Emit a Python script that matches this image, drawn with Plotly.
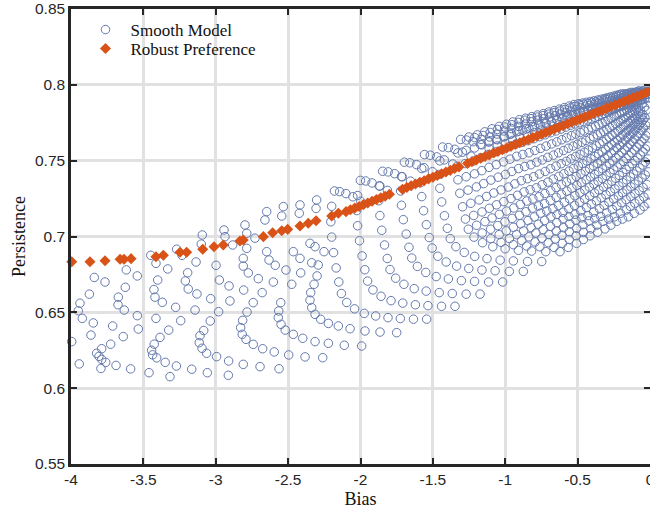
import plotly.graph_objects as go

# ---------------- Robust Preference (diamonds) ----------------
robust_x = [-3.995, -3.869, -3.765, -3.661, -3.634, -3.585, -3.413, -3.362, -3.247, -3.201,
            -3.090, -3.012, -2.948, -2.833, -2.810, -2.671, -2.607, -2.544, -2.503, -2.418,
            -2.361, -2.307, -2.199, -2.153, -2.100,
            -2.07, -2.04, -2.01, -1.98, -1.95, -1.92, -1.89, -1.86, -1.83, -1.80,
            -1.71, -1.68, -1.65, -1.62, -1.59, -1.56, -1.53, -1.50, -1.47, -1.44,
            -1.41, -1.38, -1.35, -1.32, -1.26, -1.23, -1.20, -1.17, -1.14, -1.11,
            -1.08, -1.05, -1.02, -0.99, -0.96, -0.93, -0.90, -0.87, -0.84, -0.81,
            -0.78, -0.75, -0.72, -0.69, -0.66, -0.63, -0.60, -0.57, -0.54, -0.51,
            -0.48, -0.45, -0.42, -0.39, -0.36, -0.33, -0.30, -0.27, -0.24, -0.21,
            -0.18, -0.15, -0.12, -0.09, -0.06, -0.03, 0.00]
robust_y = [0.6834, 0.6834, 0.6840, 0.6850, 0.6850, 0.6854, 0.6867, 0.6876, 0.6896, 0.6896,
            0.6916, 0.6933, 0.6944, 0.6970, 0.6977, 0.6999, 0.7025, 0.7038, 0.7047, 0.7069,
            0.7087, 0.7104, 0.7135, 0.7153, 0.7164,
            0.7176, 0.7187, 0.7198, 0.7210, 0.7221, 0.7232, 0.7244, 0.7255, 0.7266, 0.7278,
            0.7312, 0.7323, 0.7334, 0.7346, 0.7357, 0.7368, 0.7380, 0.7391, 0.7402, 0.7414,
            0.7425, 0.7436, 0.7448, 0.7459, 0.7482, 0.7493, 0.7504, 0.7516, 0.7527, 0.7538,
            0.7550, 0.7561, 0.7572, 0.7584, 0.7595, 0.7606, 0.7618, 0.7629, 0.7640, 0.7652,
            0.7663, 0.7675, 0.7686, 0.7697, 0.7709, 0.7720, 0.7731, 0.7743, 0.7754, 0.7765,
            0.7777, 0.7788, 0.7799, 0.7811, 0.7822, 0.7833, 0.7845, 0.7856, 0.7867, 0.7879,
            0.7890, 0.7901, 0.7913, 0.7924, 0.7935, 0.7947, 0.7958]

# ---------------- Smooth Model (open circles) ----------------
# sparse left part, read point by point
sparse_x = [-3.995, -3.943, -3.950, -3.938, -3.922, -3.873, -3.839, -3.765, -3.846, -3.862,
            -3.823, -3.807, -3.788, -3.788, -3.793, -3.760, -3.726, -3.712, -3.689, -3.639,
            -3.673, -3.675, -3.632, -3.625, -3.618, -3.588, -3.542, -3.542, -3.535, -3.449,
            -3.413, -3.332, -3.401, -3.427, -3.420, -3.369, -3.277, -3.413, -3.325, -3.385,
            -3.425, -3.443, -3.436, -3.408, -3.349, -3.461, -3.316, -3.272, -3.166, -3.242,
            -3.143, -3.270, -3.233, -3.093, -3.100, -3.136, -3.194, -3.210, -3.190, -3.130,
            -3.035, -3.083, -3.109, -3.114, -3.095, -3.063, -3.058, -3.038, -2.998, -2.980,
            -2.975, -2.994, -2.908, -2.902, -2.913, -2.911, -2.810, -2.694, -2.563, -2.596,
            -2.676, -2.741, -2.791, -2.817, -2.828, -2.814, -2.784, -2.741, -2.807, -2.775,
            -2.810, -2.706, -2.679, -2.602, -2.589, -2.632, -2.515, -2.551, -2.565, -2.568,
            -2.549, -2.520, -2.464, -2.399, -2.314, -2.261, -2.383, -2.496, -2.475, -2.413,
            -2.337, -2.344, -2.349, -2.337, -2.314, -2.275, -2.321, -2.300, -2.943, -2.936,
            -2.798, -2.786, -2.729, -2.648, -2.660, -2.533, -2.544, -2.418, -2.423, -2.303,
            -2.883, -2.786, -2.810, -2.648, -2.418, -2.464, -2.349, -2.314, -2.252, -2.292,
            -2.222, -2.222, -2.307,
            -1.992, -2.112, -1.750, -1.865, -1.969, -2.072, -2.153]
sparse_y = [0.6307, 0.6160, 0.6510, 0.6560, 0.6460, 0.6620, 0.6730, 0.6700, 0.6430, 0.6350,
            0.6230, 0.6210, 0.6190, 0.6260, 0.6130, 0.6170, 0.6290, 0.6410, 0.6150, 0.6340,
            0.6600, 0.6550, 0.6515, 0.6665, 0.6780, 0.6127, 0.6740, 0.6478, 0.6390, 0.6876,
            0.6823, 0.6786, 0.6713, 0.6650, 0.6600, 0.6566, 0.6533, 0.6460, 0.6383, 0.6335,
            0.6290, 0.6250, 0.6220, 0.6200, 0.6170, 0.6102, 0.6076, 0.6146, 0.6125, 0.6445,
            0.6515, 0.6916, 0.6876, 0.7010, 0.6950, 0.6832, 0.6761, 0.6707, 0.6654, 0.6621,
            0.6590, 0.6380, 0.6346, 0.6300, 0.6263, 0.6230, 0.6102, 0.6443, 0.6810, 0.6504,
            0.6713, 0.6208, 0.6674, 0.6575, 0.6085, 0.6179, 0.6157, 0.6142, 0.6128, 0.6239,
            0.6260, 0.6289, 0.6322, 0.6355, 0.6399, 0.6447, 0.6502, 0.6564, 0.6647, 0.6760,
            0.6805, 0.6722, 0.6630, 0.6700, 0.6810, 0.6845, 0.6779, 0.6564, 0.6509, 0.6465,
            0.6421, 0.6383, 0.6355, 0.6329, 0.6307, 0.6201, 0.6206, 0.6219, 0.6685, 0.6760,
            0.6827, 0.6630, 0.6580, 0.6531, 0.6487, 0.6454, 0.6685, 0.6740, 0.7043, 0.6999,
            0.7076, 0.7021, 0.6989, 0.7164, 0.7109, 0.7197, 0.7135, 0.7208, 0.7153, 0.7241,
            0.6944, 0.6922, 0.6856, 0.6900, 0.6856, 0.6900, 0.6955, 0.6933, 0.6900, 0.6812,
            0.6427, 0.6296, 0.7185,
            0.6278, 0.6283, 0.6366, 0.6370, 0.6377, 0.6392, 0.6410]

# dense arcs, read arc by arc (bottom row -> left side -> top)
arc03_x = [-1.543, -1.634, -1.725, -1.810, -1.895, -1.974, -2.041, -2.095, -2.132, -2.150, -2.168, -2.186, -2.199, -2.205, -2.199, -2.180, -2.144, -2.101, -2.053, -1.998]
arc03_y = [0.6455, 0.6455, 0.6459, 0.6465, 0.6476, 0.6493, 0.6523, 0.6565, 0.6624, 0.6700, 0.6793, 0.6894, 0.6996, 0.7097, 0.7199, 0.7300, 0.7296, 0.7283, 0.7262, 0.7232]
arc04_x = [-1.347, -1.440, -1.534, -1.621, -1.708, -1.789, -1.858, -1.914, -1.951, -1.970, -1.989, -2.007, -2.020, -2.026, -2.020, -2.001, -1.964, -1.920, -1.870, -1.814]
arc04_y = [0.6540, 0.6540, 0.6544, 0.6550, 0.6561, 0.6577, 0.6606, 0.6648, 0.6706, 0.6781, 0.6872, 0.6972, 0.7071, 0.7171, 0.7270, 0.7370, 0.7366, 0.7353, 0.7333, 0.7304]
arc05_x = [-1.174, -1.270, -1.366, -1.456, -1.546, -1.629, -1.700, -1.757, -1.796, -1.815, -1.834, -1.853, -1.866, -1.873, -1.866, -1.847, -1.809, -1.764, -1.712, -1.655]
arc05_y = [0.6620, 0.6620, 0.6624, 0.6630, 0.6640, 0.6656, 0.6685, 0.6725, 0.6782, 0.6855, 0.6944, 0.7041, 0.7138, 0.7236, 0.7333, 0.7430, 0.7426, 0.7414, 0.7394, 0.7365]
arc06_x = [-1.018, -1.115, -1.212, -1.303, -1.393, -1.477, -1.549, -1.607, -1.646, -1.665, -1.684, -1.704, -1.717, -1.723, -1.717, -1.697, -1.659, -1.613, -1.561, -1.503]
arc06_y = [0.6700, 0.6700, 0.6704, 0.6709, 0.6720, 0.6736, 0.6763, 0.6803, 0.6858, 0.6929, 0.7016, 0.7111, 0.7206, 0.7300, 0.7395, 0.7490, 0.7486, 0.7474, 0.7454, 0.7427]
arc07_x = [-0.875, -0.972, -1.070, -1.161, -1.252, -1.336, -1.408, -1.466, -1.505, -1.525, -1.545, -1.564, -1.577, -1.584, -1.577, -1.558, -1.518, -1.473, -1.421, -1.362]
arc07_y = [0.6770, 0.6770, 0.6774, 0.6779, 0.6789, 0.6805, 0.6832, 0.6870, 0.6924, 0.6993, 0.7078, 0.7170, 0.7263, 0.7355, 0.7448, 0.7540, 0.7536, 0.7525, 0.7505, 0.7478]
arc08_x = [-0.748, -0.846, -0.944, -1.035, -1.126, -1.211, -1.283, -1.341, -1.380, -1.400, -1.420, -1.439, -1.452, -1.459, -1.452, -1.433, -1.393, -1.348, -1.296, -1.237]
arc08_y = [0.6835, 0.6835, 0.6839, 0.6844, 0.6854, 0.6869, 0.6895, 0.6933, 0.6986, 0.7054, 0.7137, 0.7228, 0.7318, 0.7409, 0.7499, 0.7590, 0.7586, 0.7575, 0.7556, 0.7530]
arc09_x = [-0.622, -0.720, -0.818, -0.909, -1.001, -1.086, -1.157, -1.216, -1.255, -1.275, -1.295, -1.314, -1.327, -1.334, -1.327, -1.308, -1.268, -1.223, -1.171, -1.112]
arc09_y = [0.6900, 0.6900, 0.6904, 0.6909, 0.6919, 0.6933, 0.6959, 0.6996, 0.7048, 0.7115, 0.7196, 0.7285, 0.7374, 0.7462, 0.7551, 0.7640, 0.7636, 0.7625, 0.7607, 0.7581]
arc09b_x = [-0.565, -0.663, -0.761, -0.852, -0.944, -1.029, -1.100, -1.159, -1.198, -1.218, -1.238, -1.257, -1.270, -1.277, -1.270, -1.251, -1.211, -1.166, -1.114, -1.055]
arc09b_y = [0.6928, 0.6928, 0.6932, 0.6937, 0.6946, 0.6961, 0.6986, 0.7023, 0.7074, 0.7139, 0.7219, 0.7306, 0.7394, 0.7481, 0.7568, 0.7656, 0.7652, 0.7641, 0.7623, 0.7597]
arc10_x = [-0.507, -0.605, -0.703, -0.794, -0.886, -0.971, -1.042, -1.101, -1.140, -1.160, -1.180, -1.199, -1.212, -1.219, -1.212, -1.193, -1.153, -1.108, -1.056, -0.997]
arc10_y = [0.6955, 0.6955, 0.6959, 0.6964, 0.6973, 0.6987, 0.7012, 0.7048, 0.7098, 0.7162, 0.7241, 0.7327, 0.7413, 0.7498, 0.7584, 0.7670, 0.7666, 0.7656, 0.7638, 0.7613]
arc10b_x = [-0.460, -0.558, -0.655, -0.746, -0.837, -0.922, -0.993, -1.052, -1.091, -1.110, -1.129, -1.149, -1.162, -1.168, -1.162, -1.142, -1.104, -1.058, -1.006, -0.948]
arc10b_y = [0.6980, 0.6980, 0.6984, 0.6989, 0.6998, 0.7012, 0.7037, 0.7072, 0.7122, 0.7186, 0.7264, 0.7349, 0.7434, 0.7520, 0.7605, 0.7690, 0.7686, 0.7676, 0.7658, 0.7633]
arc11_x = [-0.414, -0.511, -0.608, -0.698, -0.789, -0.873, -0.944, -1.002, -1.041, -1.060, -1.079, -1.099, -1.112, -1.118, -1.112, -1.092, -1.054, -1.008, -0.957, -0.898]
arc11_y = [0.7005, 0.7005, 0.7009, 0.7013, 0.7023, 0.7037, 0.7061, 0.7097, 0.7146, 0.7209, 0.7287, 0.7372, 0.7456, 0.7541, 0.7625, 0.7710, 0.7706, 0.7696, 0.7678, 0.7654]
arc11b_x = [-0.362, -0.460, -0.557, -0.647, -0.738, -0.822, -0.893, -0.952, -0.991, -1.010, -1.029, -1.049, -1.062, -1.068, -1.062, -1.042, -1.004, -0.958, -0.906, -0.848]
arc11b_y = [0.7028, 0.7028, 0.7031, 0.7036, 0.7045, 0.7059, 0.7084, 0.7119, 0.7168, 0.7230, 0.7307, 0.7391, 0.7474, 0.7558, 0.7642, 0.7726, 0.7722, 0.7712, 0.7694, 0.7670]
arc12_x = [-0.311, -0.408, -0.506, -0.597, -0.687, -0.772, -0.843, -0.902, -0.941, -0.960, -0.979, -0.999, -1.012, -1.018, -1.012, -0.992, -0.954, -0.908, -0.856, -0.798]
arc12_y = [0.7050, 0.7050, 0.7053, 0.7058, 0.7067, 0.7081, 0.7105, 0.7140, 0.7188, 0.7250, 0.7326, 0.7409, 0.7492, 0.7574, 0.7657, 0.7740, 0.7737, 0.7726, 0.7709, 0.7685]
arc12b_x = [-0.270, -0.367, -0.464, -0.554, -0.644, -0.728, -0.799, -0.857, -0.896, -0.915, -0.934, -0.954, -0.967, -0.973, -0.967, -0.947, -0.909, -0.863, -0.812, -0.754]
arc12b_y = [0.7075, 0.7075, 0.7078, 0.7083, 0.7092, 0.7106, 0.7129, 0.7163, 0.7211, 0.7272, 0.7347, 0.7429, 0.7510, 0.7592, 0.7673, 0.7755, 0.7752, 0.7741, 0.7724, 0.7701]
arc13_x = [-0.230, -0.326, -0.422, -0.512, -0.601, -0.684, -0.755, -0.812, -0.851, -0.870, -0.889, -0.908, -0.921, -0.928, -0.921, -0.902, -0.864, -0.819, -0.768, -0.710]
arc13_y = [0.7100, 0.7100, 0.7103, 0.7108, 0.7117, 0.7130, 0.7154, 0.7187, 0.7234, 0.7294, 0.7368, 0.7448, 0.7529, 0.7609, 0.7690, 0.7770, 0.7767, 0.7757, 0.7740, 0.7716]
arc13b_x = [-0.190, -0.286, -0.382, -0.471, -0.560, -0.643, -0.713, -0.771, -0.809, -0.828, -0.847, -0.866, -0.879, -0.885, -0.879, -0.860, -0.822, -0.777, -0.726, -0.669]
arc13b_y = [0.7115, 0.7115, 0.7118, 0.7123, 0.7132, 0.7145, 0.7168, 0.7201, 0.7248, 0.7308, 0.7381, 0.7461, 0.7541, 0.7620, 0.7700, 0.7780, 0.7777, 0.7767, 0.7750, 0.7727]
arc14_x = [-0.150, -0.245, -0.340, -0.429, -0.518, -0.601, -0.671, -0.728, -0.766, -0.785, -0.804, -0.823, -0.836, -0.842, -0.836, -0.817, -0.779, -0.734, -0.683, -0.626]
arc14_y = [0.7130, 0.7130, 0.7133, 0.7138, 0.7147, 0.7160, 0.7183, 0.7216, 0.7262, 0.7321, 0.7394, 0.7473, 0.7552, 0.7632, 0.7711, 0.7790, 0.7787, 0.7777, 0.7760, 0.7737]
arc14b_x = [-0.109, -0.205, -0.300, -0.389, -0.478, -0.561, -0.631, -0.688, -0.726, -0.745, -0.764, -0.783, -0.796, -0.802, -0.796, -0.777, -0.739, -0.694, -0.643, -0.586]
arc14b_y = [0.7153, 0.7153, 0.7156, 0.7161, 0.7169, 0.7182, 0.7205, 0.7237, 0.7283, 0.7341, 0.7412, 0.7490, 0.7567, 0.7645, 0.7723, 0.7801, 0.7797, 0.7788, 0.7771, 0.7749]
arc15_x = [-0.069, -0.164, -0.260, -0.349, -0.438, -0.521, -0.591, -0.648, -0.686, -0.705, -0.724, -0.743, -0.756, -0.762, -0.756, -0.737, -0.699, -0.654, -0.603, -0.546]
arc15_y = [0.7175, 0.7175, 0.7178, 0.7183, 0.7191, 0.7204, 0.7226, 0.7258, 0.7302, 0.7359, 0.7429, 0.7505, 0.7581, 0.7658, 0.7734, 0.7810, 0.7807, 0.7797, 0.7781, 0.7759]
arc15b_x = [-0.041, -0.135, -0.229, -0.317, -0.405, -0.486, -0.555, -0.612, -0.649, -0.668, -0.687, -0.706, -0.718, -0.724, -0.718, -0.699, -0.662, -0.618, -0.568, -0.511]
arc15b_y = [0.7198, 0.7198, 0.7201, 0.7205, 0.7214, 0.7226, 0.7248, 0.7279, 0.7323, 0.7379, 0.7447, 0.7522, 0.7596, 0.7671, 0.7746, 0.7821, 0.7817, 0.7808, 0.7792, 0.7771]
arc16_x = [-0.012, -0.105, -0.197, -0.284, -0.370, -0.451, -0.519, -0.574, -0.611, -0.630, -0.649, -0.667, -0.679, -0.686, -0.679, -0.661, -0.624, -0.581, -0.531, -0.475]
arc16_y = [0.7220, 0.7220, 0.7223, 0.7227, 0.7235, 0.7247, 0.7269, 0.7299, 0.7342, 0.7397, 0.7464, 0.7537, 0.7610, 0.7684, 0.7757, 0.7830, 0.7827, 0.7818, 0.7803, 0.7781]
arc16b_x = [-0.073, -0.165, -0.251, -0.337, -0.417, -0.484, -0.540, -0.577, -0.595, -0.613, -0.632, -0.644, -0.650, -0.644, -0.626, -0.589, -0.546, -0.497, -0.441]
arc16b_y = [0.7240, 0.7243, 0.7247, 0.7255, 0.7267, 0.7288, 0.7318, 0.7360, 0.7414, 0.7480, 0.7552, 0.7624, 0.7696, 0.7768, 0.7840, 0.7837, 0.7828, 0.7813, 0.7792]
arc17_x = [-0.042, -0.133, -0.218, -0.304, -0.383, -0.450, -0.505, -0.542, -0.560, -0.578, -0.597, -0.609, -0.615, -0.609, -0.591, -0.554, -0.511, -0.462, -0.407]
arc17_y = [0.7260, 0.7263, 0.7267, 0.7275, 0.7287, 0.7307, 0.7337, 0.7378, 0.7431, 0.7496, 0.7567, 0.7638, 0.7708, 0.7779, 0.7850, 0.7847, 0.7838, 0.7823, 0.7803]
arc17b_x = [-0.013, -0.104, -0.189, -0.274, -0.353, -0.419, -0.474, -0.510, -0.528, -0.546, -0.564, -0.576, -0.582, -0.576, -0.558, -0.522, -0.480, -0.431, -0.377]
arc17b_y = [0.7280, 0.7283, 0.7287, 0.7295, 0.7306, 0.7326, 0.7355, 0.7396, 0.7448, 0.7512, 0.7582, 0.7651, 0.7721, 0.7790, 0.7860, 0.7857, 0.7848, 0.7834, 0.7814]
arc18_x = [-0.075, -0.159, -0.243, -0.321, -0.387, -0.441, -0.477, -0.495, -0.513, -0.531, -0.543, -0.549, -0.543, -0.525, -0.489, -0.447, -0.399, -0.345]
arc18_y = [0.7303, 0.7307, 0.7314, 0.7326, 0.7346, 0.7374, 0.7414, 0.7465, 0.7528, 0.7596, 0.7665, 0.7733, 0.7802, 0.7870, 0.7867, 0.7859, 0.7844, 0.7824]
arc18b_x = [-0.048, -0.132, -0.215, -0.292, -0.358, -0.411, -0.447, -0.465, -0.483, -0.501, -0.513, -0.519, -0.513, -0.495, -0.459, -0.417, -0.370, -0.316]
arc18b_y = [0.7323, 0.7327, 0.7334, 0.7345, 0.7364, 0.7392, 0.7431, 0.7481, 0.7542, 0.7609, 0.7675, 0.7742, 0.7808, 0.7875, 0.7872, 0.7864, 0.7850, 0.7831]
arc19_x = [-0.022, -0.105, -0.187, -0.264, -0.329, -0.382, -0.417, -0.435, -0.453, -0.470, -0.482, -0.488, -0.482, -0.465, -0.429, -0.388, -0.341, -0.287]
arc19_y = [0.7343, 0.7346, 0.7354, 0.7364, 0.7383, 0.7410, 0.7448, 0.7497, 0.7556, 0.7621, 0.7686, 0.7750, 0.7815, 0.7880, 0.7877, 0.7869, 0.7856, 0.7837]
arc19b_x = [-0.080, -0.162, -0.238, -0.303, -0.355, -0.390, -0.408, -0.426, -0.443, -0.455, -0.461, -0.455, -0.437, -0.402, -0.361, -0.314, -0.262]
arc19b_y = [0.7366, 0.7373, 0.7384, 0.7402, 0.7428, 0.7465, 0.7512, 0.7570, 0.7633, 0.7696, 0.7759, 0.7822, 0.7885, 0.7882, 0.7875, 0.7861, 0.7843]
arc20_x = [-0.055, -0.136, -0.212, -0.276, -0.328, -0.363, -0.380, -0.397, -0.415, -0.426, -0.432, -0.426, -0.409, -0.374, -0.334, -0.287, -0.235]
arc20_y = [0.7386, 0.7393, 0.7403, 0.7421, 0.7446, 0.7482, 0.7528, 0.7584, 0.7645, 0.7706, 0.7768, 0.7829, 0.7890, 0.7887, 0.7880, 0.7867, 0.7849]
arc20b_x = [-0.033, -0.113, -0.188, -0.251, -0.303, -0.338, -0.355, -0.372, -0.390, -0.401, -0.407, -0.401, -0.384, -0.349, -0.309, -0.263, -0.211]
arc20b_y = [0.7406, 0.7412, 0.7422, 0.7440, 0.7464, 0.7499, 0.7544, 0.7598, 0.7657, 0.7717, 0.7776, 0.7836, 0.7895, 0.7893, 0.7885, 0.7873, 0.7855]
arc21_x = [-0.011, -0.091, -0.165, -0.227, -0.279, -0.313, -0.330, -0.347, -0.364, -0.376, -0.381, -0.376, -0.359, -0.324, -0.284, -0.239, -0.187]
arc21_y = [0.7426, 0.7432, 0.7442, 0.7458, 0.7482, 0.7516, 0.7559, 0.7612, 0.7670, 0.7727, 0.7785, 0.7842, 0.7900, 0.7898, 0.7890, 0.7878, 0.7862]
arc21b_x = [-0.070, -0.144, -0.206, -0.257, -0.291, -0.308, -0.325, -0.342, -0.353, -0.359, -0.353, -0.336, -0.302, -0.263, -0.218, -0.167]
arc21b_y = [0.7452, 0.7461, 0.7477, 0.7500, 0.7533, 0.7575, 0.7626, 0.7682, 0.7738, 0.7793, 0.7849, 0.7905, 0.7903, 0.7896, 0.7884, 0.7868]
arc22_x = [-0.050, -0.123, -0.184, -0.235, -0.268, -0.285, -0.302, -0.319, -0.330, -0.335, -0.330, -0.313, -0.279, -0.240, -0.195, -0.145]
arc22_y = [0.7471, 0.7480, 0.7496, 0.7519, 0.7550, 0.7591, 0.7640, 0.7694, 0.7748, 0.7802, 0.7856, 0.7910, 0.7908, 0.7901, 0.7890, 0.7874]
arc22b_x = [-0.032, -0.104, -0.165, -0.215, -0.248, -0.265, -0.282, -0.298, -0.309, -0.315, -0.309, -0.293, -0.259, -0.221, -0.176, -0.126]
arc22b_y = [0.7491, 0.7500, 0.7515, 0.7537, 0.7567, 0.7606, 0.7654, 0.7706, 0.7758, 0.7811, 0.7863, 0.7915, 0.7913, 0.7906, 0.7895, 0.7880]
arc23_x = [-0.014, -0.085, -0.146, -0.195, -0.228, -0.245, -0.262, -0.278, -0.289, -0.295, -0.289, -0.273, -0.239, -0.201, -0.157, -0.107]
arc23_y = [0.7511, 0.7519, 0.7534, 0.7555, 0.7584, 0.7622, 0.7668, 0.7718, 0.7769, 0.7819, 0.7870, 0.7920, 0.7918, 0.7912, 0.7901, 0.7886]
arc23b_x = [-0.067, -0.127, -0.176, -0.209, -0.225, -0.241, -0.258, -0.269, -0.274, -0.269, -0.252, -0.220, -0.181, -0.138, -0.089]
arc23b_y = [0.7538, 0.7552, 0.7573, 0.7601, 0.7637, 0.7682, 0.7731, 0.7779, 0.7828, 0.7876, 0.7925, 0.7923, 0.7917, 0.7907, 0.7893]
arc24_x = [-0.048, -0.108, -0.156, -0.189, -0.205, -0.221, -0.237, -0.248, -0.254, -0.248, -0.232, -0.200, -0.162, -0.119, -0.070]
arc24_y = [0.7558, 0.7571, 0.7591, 0.7618, 0.7653, 0.7696, 0.7743, 0.7790, 0.7836, 0.7883, 0.7930, 0.7928, 0.7922, 0.7912, 0.7899]
arc24b_x = [-0.032, -0.091, -0.139, -0.171, -0.188, -0.204, -0.220, -0.231, -0.236, -0.231, -0.214, -0.182, -0.145, -0.102, -0.054]
arc24b_y = [0.7577, 0.7590, 0.7609, 0.7635, 0.7669, 0.7710, 0.7755, 0.7800, 0.7845, 0.7890, 0.7935, 0.7933, 0.7928, 0.7918, 0.7905]
arc25_x = [-0.016, -0.075, -0.122, -0.154, -0.170, -0.186, -0.202, -0.212, -0.218, -0.212, -0.197, -0.165, -0.128, -0.085, -0.037]
arc25_y = [0.7596, 0.7609, 0.7627, 0.7652, 0.7684, 0.7724, 0.7767, 0.7810, 0.7854, 0.7897, 0.7940, 0.7938, 0.7933, 0.7924, 0.7911]
arc25b_x = [-0.058, -0.106, -0.137, -0.153, -0.169, -0.185, -0.195, -0.200, -0.195, -0.179, -0.148, -0.111, -0.069, -0.022]
arc25b_y = [0.7627, 0.7644, 0.7668, 0.7699, 0.7736, 0.7777, 0.7818, 0.7858, 0.7899, 0.7940, 0.7938, 0.7933, 0.7925, 0.7913]
arc26_x = [-0.041, -0.088, -0.119, -0.135, -0.151, -0.166, -0.177, -0.182, -0.177, -0.161, -0.130, -0.093, -0.052, -0.005]
arc26_y = [0.7646, 0.7662, 0.7684, 0.7713, 0.7748, 0.7786, 0.7825, 0.7863, 0.7902, 0.7940, 0.7938, 0.7934, 0.7926, 0.7914]
arc26b_x = [-0.027, -0.074, -0.105, -0.120, -0.135, -0.151, -0.161, -0.166, -0.161, -0.146, -0.115, -0.079, -0.038]
arc26b_y = [0.7664, 0.7680, 0.7701, 0.7728, 0.7762, 0.7799, 0.7835, 0.7872, 0.7908, 0.7945, 0.7943, 0.7939, 0.7931]
arc27_x = [-0.013, -0.059, -0.090, -0.105, -0.120, -0.136, -0.146, -0.151, -0.146, -0.131, -0.100, -0.064, -0.023]
arc27_y = [0.7683, 0.7698, 0.7718, 0.7744, 0.7776, 0.7811, 0.7846, 0.7880, 0.7915, 0.7950, 0.7949, 0.7944, 0.7937]
arc27b_x = [-0.045, -0.075, -0.090, -0.105, -0.120, -0.130, -0.135, -0.130, -0.115, -0.085, -0.050, -0.009]
arc27b_y = [0.7715, 0.7734, 0.7758, 0.7788, 0.7820, 0.7853, 0.7885, 0.7918, 0.7950, 0.7949, 0.7945, 0.7938]
arc28_x = [-0.030, -0.060, -0.075, -0.090, -0.105, -0.115, -0.120, -0.115, -0.100, -0.070, -0.035]
arc28_y = [0.7733, 0.7750, 0.7773, 0.7800, 0.7830, 0.7860, 0.7890, 0.7920, 0.7950, 0.7949, 0.7945]
arc28b_x = [-0.018, -0.048, -0.063, -0.078, -0.093, -0.103, -0.108, -0.103, -0.088, -0.058, -0.023]
arc28b_y = [0.7751, 0.7767, 0.7788, 0.7814, 0.7842, 0.7870, 0.7899, 0.7927, 0.7955, 0.7954, 0.7950]
arc29_x = [-0.035, -0.050, -0.065, -0.079, -0.089, -0.094, -0.089, -0.075, -0.045, -0.011]
arc29_y = [0.7784, 0.7804, 0.7828, 0.7854, 0.7881, 0.7907, 0.7934, 0.7960, 0.7959, 0.7956]
arc30_x = [-0.025, -0.039, -0.054, -0.063, -0.068, -0.063, -0.049, -0.020]
arc30_y = [0.7832, 0.7852, 0.7874, 0.7895, 0.7917, 0.7938, 0.7960, 0.7959]

dense_x_arcs = [arc03_x, arc04_x, arc05_x, arc06_x, arc07_x, arc08_x, arc09_x, arc09b_x, arc10_x,
                arc10b_x, arc11_x, arc11b_x, arc12_x, arc12b_x, arc13_x, arc13b_x, arc14_x, arc14b_x,
                arc15_x, arc15b_x, arc16_x, arc16b_x, arc17_x, arc17b_x, arc18_x, arc18b_x, arc19_x,
                arc19b_x, arc20_x, arc20b_x, arc21_x, arc21b_x, arc22_x, arc22b_x, arc23_x, arc23b_x,
                arc24_x, arc24b_x, arc25_x, arc25b_x, arc26_x, arc26b_x, arc27_x, arc27b_x, arc28_x,
                arc28b_x, arc29_x, arc30_x]
dense_y_arcs = [arc03_y, arc04_y, arc05_y, arc06_y, arc07_y, arc08_y, arc09_y, arc09b_y, arc10_y,
                arc10b_y, arc11_y, arc11b_y, arc12_y, arc12b_y, arc13_y, arc13b_y, arc14_y, arc14b_y,
                arc15_y, arc15b_y, arc16_y, arc16b_y, arc17_y, arc17b_y, arc18_y, arc18b_y, arc19_y,
                arc19b_y, arc20_y, arc20b_y, arc21_y, arc21b_y, arc22_y, arc22b_y, arc23_y, arc23b_y,
                arc24_y, arc24b_y, arc25_y, arc25b_y, arc26_y, arc26b_y, arc27_y, arc27b_y, arc28_y,
                arc28b_y, arc29_y, arc30_y]

smooth_x = list(sparse_x)
smooth_y = list(sparse_y)
for ax_, ay_ in zip(dense_x_arcs, dense_y_arcs):
    smooth_x += ax_
    smooth_y += ay_

x_ticks = [-4, -3.5, -3, -2.5, -2, -1.5, -1, -0.5, 0]
x_tick_text = ["-4", "-3.5", "-3", "-2.5", "-2", "-1.5", "-1", "-0.5", "0"]
y_ticks = [0.55, 0.6, 0.65, 0.7, 0.75, 0.8, 0.85]
y_tick_text = ["0.55", "0.6", "0.65", "0.7", "0.75", "0.8", "0.85"]

CIRCLE = "#6479ad"
RED = "#D95319"
AXC = "#262626"
SERIF = "Liberation Serif, Times New Roman, serif"

fig = go.Figure()
fig.add_trace(go.Scatter(
    x=smooth_x, y=smooth_y, mode="markers", name="Smooth Model", legend="legend",
    marker=dict(symbol="circle-open", size=8.5, color=CIRCLE, line=dict(width=1.0, color=CIRCLE)),
    cliponaxis=False))
fig.add_trace(go.Scatter(
    x=robust_x, y=robust_y, mode="markers", name="Robust Preference", legend="legend2",
    marker=dict(symbol="diamond", size=8.5, color=RED, line=dict(width=0)),
    cliponaxis=False))

axis_common = dict(
    showline=True, linewidth=2.5, linecolor=AXC, mirror="ticks",
    ticks="inside", ticklen=6, tickwidth=2, tickcolor=AXC,
    showgrid=True, gridcolor="#e1e1e1", gridwidth=2.5,
    zeroline=False, automargin=False,
    tickfont=dict(family="Liberation Sans, Arial, sans-serif", size=15.5, color=AXC),
)

fig.update_xaxes(range=[-4, 0], tickvals=x_ticks, ticktext=x_tick_text, ticklabeloverflow="allow",
                 title=dict(text="Bias", standoff=6, font=dict(family=SERIF, size=18, color="#111111")),
                 **axis_common)
fig.update_yaxes(range=[0.55, 0.85], tickvals=y_ticks, ticktext=y_tick_text,
                 title=dict(text="Persistence", standoff=5, font=dict(family=SERIF, size=18, color="#111111")),
                 **axis_common)

legend_common = dict(xanchor="left", yanchor="top", bgcolor="rgba(0,0,0,0)", borderwidth=0,
                     font=dict(family=SERIF, size=17, color="#111111"), itemwidth=40,
                     itemsizing="trace")
fig.update_layout(
    width=650, height=512,
    margin=dict(l=71, r=0, t=9, b=48),
    paper_bgcolor="white", plot_bgcolor="white",
    showlegend=True,
    legend=dict(x=0.0164, y=0.9934, **legend_common),
    legend2=dict(x=0.0164, y=0.9516, **legend_common),
)

fig.write_html("out.html")
